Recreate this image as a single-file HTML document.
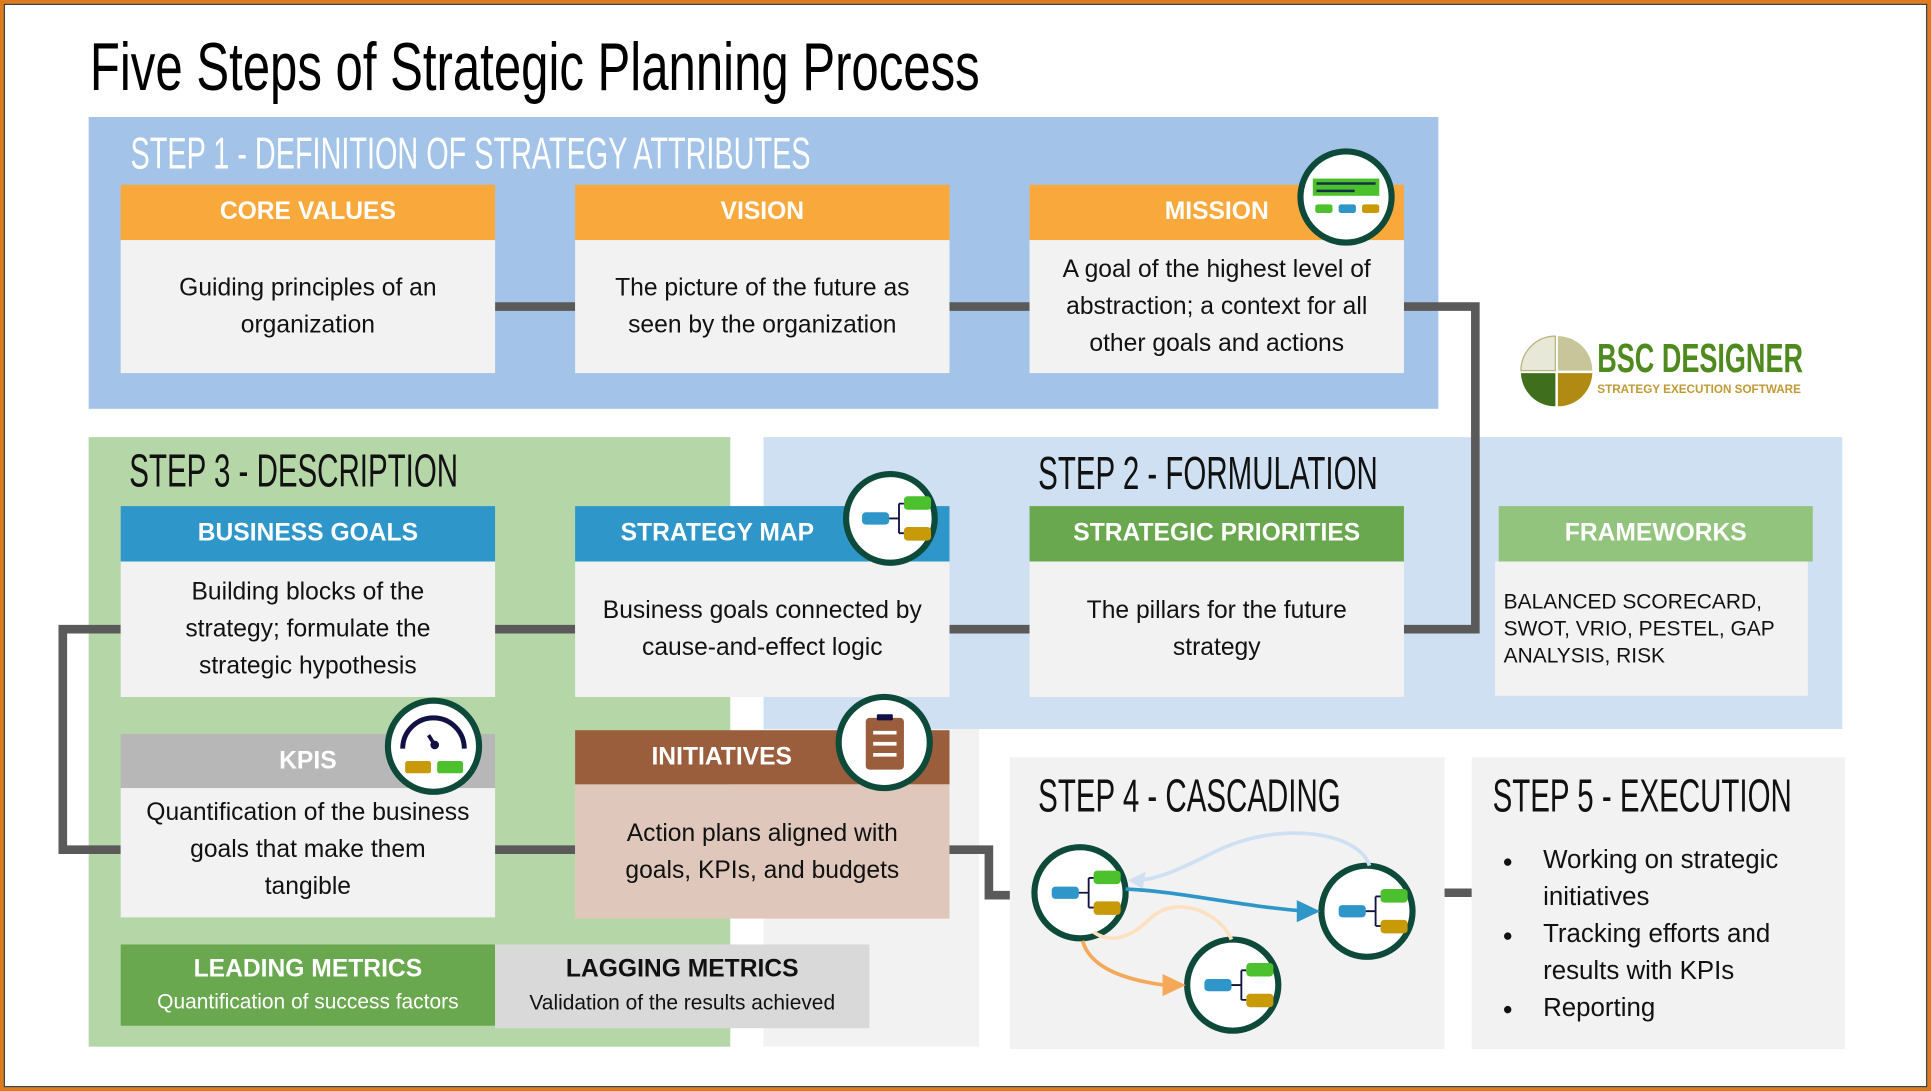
<!DOCTYPE html>
<html><head><meta charset="utf-8">
<style>
html,body{margin:0;padding:0;background:#fff;overflow:hidden}
#wrap{width:1931px;height:1091px;overflow:hidden;position:relative}
#c{position:absolute;left:0;top:0;width:1568px;height:886px;transform-origin:0 0;transform:scale(1.23151,1.23138);font-family:"Liberation Sans",sans-serif}
.a{position:absolute;box-sizing:border-box}
.nar{font-family:"Liberation Sans Narrow","Liberation Sans",sans-serif;}
.hd{color:#fff;font-weight:bold;font-size:20px;text-align:center;line-height:45px}
.bd{background:#f2f2f2;color:#111;font-size:20px;line-height:30px;text-align:center;display:flex;align-items:center;justify-content:center;padding:0 22px}
.st{font-size:38px;color:#111;transform-origin:0 0;transform:scaleX(0.63);white-space:nowrap}
</style></head><body><div id="wrap"><div id="c">
<div class="a" style="left:0;top:0;width:1568px;height:886px;border:3px solid #e07b1c;"></div>
<div class="a" style="left:3px;top:3px;width:1562px;height:880px;border:1px solid #333;"></div>

<div class="a nar" style="left:73px;top:22px;font-size:55px;color:#000;white-space:nowrap;transform-origin:0 0;transform:scaleX(0.725)">Five Steps of Strategic Planning Process</div>

<div class="a" style="left:72px;top:95px;width:1096px;height:237px;background:#a3c4e8"></div>
<div class="a" style="left:620px;top:355px;width:876px;height:237px;background:#cfe0f2"></div>
<div class="a" style="left:620px;top:592px;width:175px;height:258px;background:#f2f2f2"></div>
<div class="a" style="left:72px;top:355px;width:521px;height:495px;background:#b5d6a7"></div>
<div class="a" style="left:820px;top:615px;width:353px;height:237px;background:#f2f2f2"></div>
<div class="a" style="left:1195px;top:615px;width:303px;height:237px;background:#f2f2f2"></div>

<svg class="a" style="left:0;top:0" width="1568" height="886">
<g stroke="#5a5a5a" stroke-width="7" fill="none">
<path d="M402 249H467M771 249H836"/>
<path d="M1140 249H1198V511H1140"/>
<path d="M771 511H836M402 511H467"/>
<path d="M98 511H51V690H98"/>
<path d="M402 690H467"/>
<path d="M771 690H803V727H820"/>
<path d="M1173 725H1195"/>
</g>
</svg>

<div class="a nar st" style="left:106px;top:104px;color:#fff;font-size:36px;transform:scaleX(0.65)">STEP 1 - DEFINITION OF STRATEGY ATTRIBUTES</div>
<div class="a nar st" style="left:105px;top:362px">STEP 3 - DESCRIPTION</div>
<div class="a nar st" style="left:843px;top:364px">STEP 2 - FORMULATION</div>
<div class="a nar st" style="left:843px;top:626px">STEP 4 - CASCADING</div>
<div class="a nar st" style="left:1212px;top:626px">STEP 5 - EXECUTION</div>

<div class="a hd" style="left:98px;top:150px;width:304px;height:45px;background:#f9a93c">CORE VALUES</div>
<div class="a bd" style="left:98px;top:195px;width:304px;height:108px">Guiding principles of an organization</div>
<div class="a hd" style="left:467px;top:150px;width:304px;height:45px;background:#f9a93c">VISION</div>
<div class="a bd" style="left:467px;top:195px;width:304px;height:108px">The picture of the future as seen by the organization</div>
<div class="a hd" style="left:836px;top:150px;width:304px;height:45px;background:#f9a93c">MISSION</div>
<div class="a bd" style="left:836px;top:195px;width:304px;height:108px;padding:0 12px">A goal of the highest level of abstraction; a context for all other goals and actions</div>

<div class="a hd" style="left:98px;top:411px;width:304px;height:45px;background:#2e96c8">BUSINESS GOALS</div>
<div class="a bd" style="left:98px;top:456px;width:304px;height:110px;padding:0 40px">Building blocks of the strategy; formulate the strategic hypothesis</div>
<div class="a hd" style="left:467px;top:411px;width:304px;height:45px;background:#2e96c8;text-align:left;padding-left:37px">STRATEGY MAP</div>
<div class="a bd" style="left:467px;top:456px;width:304px;height:110px;padding:0 8px">Business goals connected by cause-and-effect logic</div>
<div class="a hd" style="left:836px;top:411px;width:304px;height:45px;background:#6aa84f">STRATEGIC PRIORITIES</div>
<div class="a bd" style="left:836px;top:456px;width:304px;height:110px;padding:0 30px">The pillars for the future strategy</div>
<div class="a hd" style="left:1217px;top:411px;width:255px;height:45px;background:#93c47d">FRAMEWORKS</div>
<div class="a" style="left:1214px;top:456px;width:254px;height:109px;background:#f2f2f2;font-size:17px;line-height:22px;padding:22px 0 0 7px;color:#111">BALANCED SCORECARD, SWOT, VRIO, PESTEL, GAP ANALYSIS, RISK</div>

<div class="a hd" style="left:98px;top:596px;width:304px;height:44px;background:#b7b7b7">KPIS</div>
<div class="a bd" style="left:98px;top:640px;width:304px;height:105px;padding:0 6px;align-items:flex-start;padding-top:5px">Quantification of the business<br>goals that make them<br>tangible</div>
<div class="a hd" style="left:467px;top:593px;width:304px;height:44px;background:#9b5e3c;text-align:left;padding-left:62px">INITIATIVES</div>
<div class="a bd" style="left:467px;top:637px;width:304px;height:109px;background:#dfc8bb;padding:0 26px">Action plans aligned with goals, KPIs, and budgets</div>

<div class="a" style="left:98px;top:767px;width:304px;height:66px;background:#6aa84f;color:#fff;text-align:center">
<div style="font-weight:bold;font-size:20px;margin-top:9px">LEADING METRICS</div><div style="font-size:17px;margin-top:5px">Quantification of success factors</div></div>
<div class="a" style="left:402px;top:767px;width:304px;height:68px;background:#d9d9d9;color:#111;text-align:center">
<div style="font-weight:bold;font-size:20px;margin-top:9px">LAGGING METRICS</div><div style="font-size:17px;margin-top:6px">Validation of the results achieved</div></div>

<div class="a" style="left:1220px;top:684px;width:270px;font-size:21px;line-height:30px;color:#111">
<div style="position:relative;padding-left:33px"><span style="position:absolute;left:0;font-size:14px">●</span>Working on strategic initiatives</div>
<div style="position:relative;padding-left:33px"><span style="position:absolute;left:0;font-size:14px">●</span>Tracking efforts and results with KPIs</div>
<div style="position:relative;padding-left:33px"><span style="position:absolute;left:0;font-size:14px">●</span>Reporting</div>
</div>

<svg class="a" style="left:1234px;top:272px" width="60" height="58">
<path d="M29 29V1A28 28 0 0 0 1 29Z" fill="#e8e8d8" stroke="#b9b27a"/>
<path d="M31 29V1A28 28 0 0 1 59 29Z" fill="#c8c59a"/>
<path d="M29 31V58A28 28 0 0 1 1 31Z" fill="#3f6f1c"/>
<path d="M31 31V58A28 28 0 0 0 59 31Z" fill="#b08a12"/>
</svg>
<div class="a nar" style="left:1297px;top:272px;font-size:33px;font-weight:bold;color:#4f8a1f;transform-origin:0 0;transform:scaleX(0.665);white-space:nowrap">BSC DESIGNER</div>
<div class="a" style="left:1297px;top:311px;font-size:10px;font-weight:bold;color:#c09a34;white-space:nowrap;transform-origin:0 0;transform:scaleX(0.95)">STRATEGY EXECUTION SOFTWARE</div>

<svg class="a" style="left:0;top:0" width="1568" height="886">
<defs>
<g id="map">
<rect x="-26" y="-5" width="22" height="10" rx="3" fill="#2e96c8"/>
<path d="M-4 0H4M4 -12V12M4 -12H8M4 12H8" stroke="#114" stroke-width="1.5" fill="none"/>
<rect x="8" y="-18" width="22" height="11" rx="3" fill="#4cc02d"/>
<rect x="8" y="7" width="22" height="11" rx="3" fill="#c89a08"/>
</g>
</defs>
<g stroke="#0d4a3a" stroke-width="5" fill="#fff">
<circle cx="1093" cy="160" r="37"/>
<circle cx="723" cy="421" r="36"/>
<circle cx="352" cy="606" r="37"/>
<circle cx="718" cy="603" r="37"/>
<circle cx="877" cy="725" r="37"/>
<circle cx="1110" cy="740" r="37"/>
<circle cx="1001" cy="800" r="37"/>
</g>
<g>
<rect x="1066" y="145" width="54" height="14" fill="#4cc02d"/>
<path d="M1069 149H1117M1069 155H1100" stroke="#134" stroke-width="2"/>
<rect x="1068" y="166" width="14" height="7" rx="2" fill="#4cc02d"/>
<rect x="1087" y="166" width="14" height="7" rx="2" fill="#2e96c8"/>
<rect x="1106" y="166" width="14" height="7" rx="2" fill="#c89a08"/>
</g>
<use href="#map" x="726" y="421"/>
<path d="M327 608A25 25 0 0 1 377 608" stroke="#114" stroke-width="4" fill="none"/>
<path d="M348 597L353 605" stroke="#114" stroke-width="3"/><circle cx="353" cy="605" r="3.5" fill="#114"/>
<rect x="329" y="618" width="21" height="10" rx="2" fill="#c89a08"/>
<rect x="355" y="618" width="21" height="10" rx="2" fill="#4cc02d"/>
<rect x="703" y="583" width="31" height="42" rx="3" fill="#9b5e3c"/>
<rect x="712" y="580" width="13" height="5" rx="1" fill="#114"/>
<path d="M709 595H728M709 604H728M709 613H728" stroke="#fff" stroke-width="3"/>
<use href="#map" x="880" y="725"/>
<use href="#map" x="1113" y="740"/>
<use href="#map" x="1004" y="800"/>
<path d="M1112 703C1105 678 1045 665 990 690C960 705 940 715 920 715" stroke="#cfe0f2" stroke-width="3" fill="none"/>
<path d="M916 715L930 708L928 722Z" fill="#cfe0f2"/>
<path d="M914 722C960 724 1000 735 1060 740" stroke="#2e96c8" stroke-width="3" fill="none"/>
<path d="M1072 740L1053 731L1053 749Z" fill="#2e96c8"/>
<path d="M1000 763C990 740 955 727 935 745C915 765 900 765 888 757" stroke="#fde0c0" stroke-width="3" fill="none"/>
<path d="M879 764C885 785 910 795 945 800" stroke="#f4a85a" stroke-width="3" fill="none"/>
<path d="M963 800L944 791L944 809Z" fill="#f4a85a"/>
</svg>
</div></div></body></html>
